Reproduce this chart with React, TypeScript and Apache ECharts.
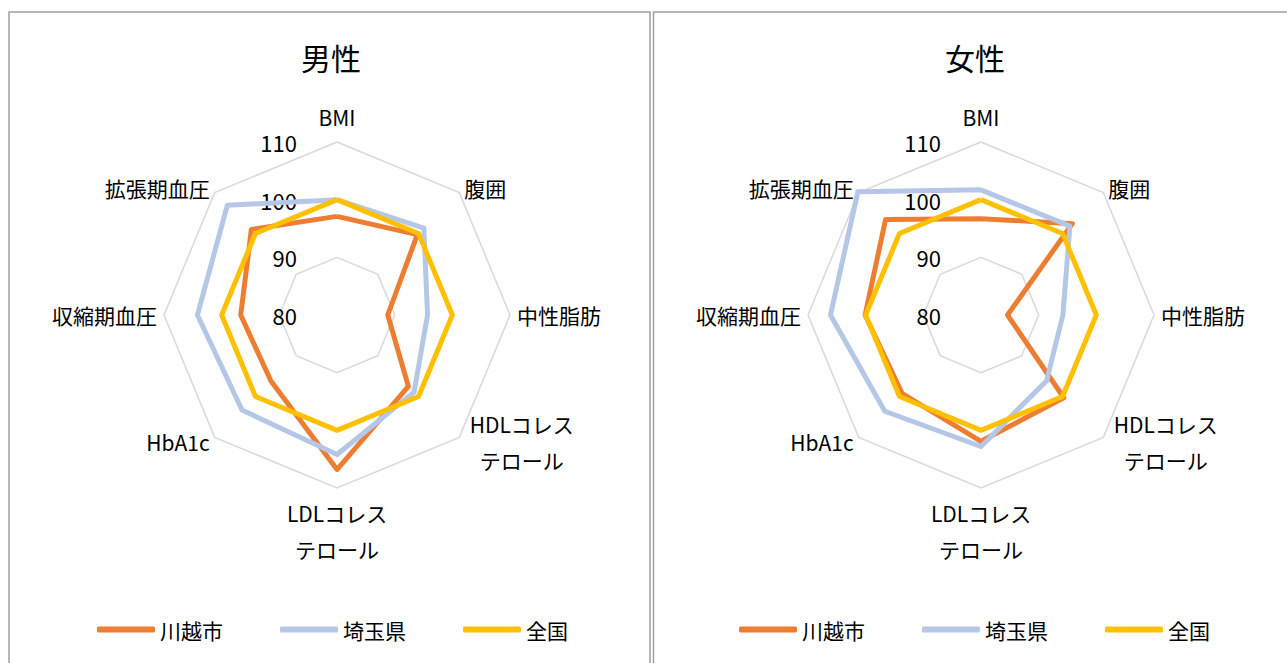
import React, { useEffect, useRef } from "react";
import * as echarts from "echarts";

// Categories in natural (clockwise from top) order
const categories = [
  "BMI",
  "腹囲",
  "中性脂肪",
  "HDLコレス\nテロール",
  "LDLコレス\nテロール",
  "HbA1c",
  "収縮期血圧",
  "拡張期血圧",
];
const seriesNames = ["川越市", "埼玉県", "全国"];
const panelTitles = ["男性", "女性"];

const maleKawagoe = [97.1, 99.7, 88.8, 97.5, 106.8, 96.2, 96.7, 101.0];
const maleSaitama = [100.0, 101.3, 95.7, 98.9, 104.2, 103.3, 104.2, 106.9];
const maleNational = [100, 100, 100, 100, 100, 100, 100, 100];

const femaleKawagoe = [96.7, 102.4, 84.6, 100.3, 101.9, 99.3, 100.1, 103.4];
const femaleSaitama = [101.7, 101.8, 94.2, 96.1, 102.8, 103.6, 106.1, 110.2];
const femaleNational = [100, 100, 100, 100, 100, 100, 100, 100];

const axisMin = 80;
const axisMax = 110;
const axisSplits = 3;

const colors = ["#ED7D31", "#B4C7E7", "#FFC000"];
const FONT = "'Noto Sans CJK JP', 'Noto Sans', sans-serif";

// ECharts radar goes counter-clockwise; reorder to draw clockwise.
const order = [0, 7, 6, 5, 4, 3, 2, 1];

const panels = [
  { title: panelTitles[0], cx: 337, data: [maleKawagoe, maleSaitama, maleNational], legendLeft: 92 },
  { title: panelTitles[1], cx: 981, data: [femaleKawagoe, femaleSaitama, femaleNational], legendLeft: 734 },
];

export default function App() {
  const ref = useRef<HTMLDivElement>(null);
  useEffect(() => {
    document.body.style.margin = "0";
    const chart = echarts.init(ref.current!, null, { renderer: "svg" });
    const option: any = {
      animation: false,
      backgroundColor: "#fff",
      textStyle: { fontFamily: FONT },
      title: panels.map((p) => ({
        text: p.title,
        left: p.cx - 36,
        top: 40,
        padding: 0,
        textStyle: { fontSize: 30, fontWeight: "normal", color: "#000", fontFamily: FONT, lineHeight: 34 },
      })),
      graphic: [
        { type: "rect", shape: { x: 9, y: 12, width: 641, height: 700 }, style: { fill: "none", stroke: "#a0a0a0", lineWidth: 1.5 } },
        { type: "rect", shape: { x: 653.5, y: 12, width: 700, height: 700 }, style: { fill: "none", stroke: "#a0a0a0", lineWidth: 1.5 } },
      ],
      legend: panels.map((p) => ({
        left: p.legendLeft,
        top: 614,
        icon: "roundRect",
        itemWidth: 58,
        itemHeight: 6,
        itemGap: 57,
        textStyle: { fontSize: 21, color: "#000", fontFamily: FONT },
        data: seriesNames,
      })),
      radar: panels.map((p) => ({
        center: [p.cx, 315],
        radius: 173,
        startAngle: 90,
        shape: "polygon",
        splitNumber: axisSplits,
        nameGap: 7,
        axisName: {
          color: "#000",
          fontSize: 21,
          fontFamily: FONT,
          lineHeight: 36,
          formatter: (name: string) =>
            name.indexOf("\n") >= 0
              ? name
                  .split("\n")
                  .map((s) => "{c|" + s + "}")
                  .join("\n")
              : name,
          rich: {
            c: { width: 115, align: "center", fontSize: 21, lineHeight: 36, color: "#000", fontFamily: FONT },
          },
        },
        axisLine: { show: false },
        axisTick: { show: false },
        axisLabel: { show: false },
        splitArea: { show: false },
        splitLine: {
          lineStyle: { color: ["transparent", "#D9D9D9", "transparent", "#D9D9D9"], width: 1.5 },
        },
        indicator: order.map((k, i) => {
          const ind: any = { name: categories[k], min: axisMin, max: axisMax };
          if (i === 0) {
            ind.axisLabel = {
              show: true,
              margin: 40,
              align: "right",
              color: "#000",
              fontSize: 22,
              fontFamily: FONT,
            };
          }
          return ind;
        }),
      })),
      series: panels.map((p, pi) => ({
        type: "radar",
        radarIndex: pi,
        symbol: "none",
        data: p.data.map((vals, si) => ({
          name: seriesNames[si],
          value: order.map((k) => vals[k]),
          itemStyle: { color: colors[si] },
          lineStyle: { color: colors[si], width: 5 },
        })),
      })),
    };
    chart.setOption(option);
    return () => chart.dispose();
  }, []);
  return (
    <div
      ref={ref}
      style={{ position: "absolute", left: 0, top: 0, width: 1287, height: 663 }}
    />
  );
}
